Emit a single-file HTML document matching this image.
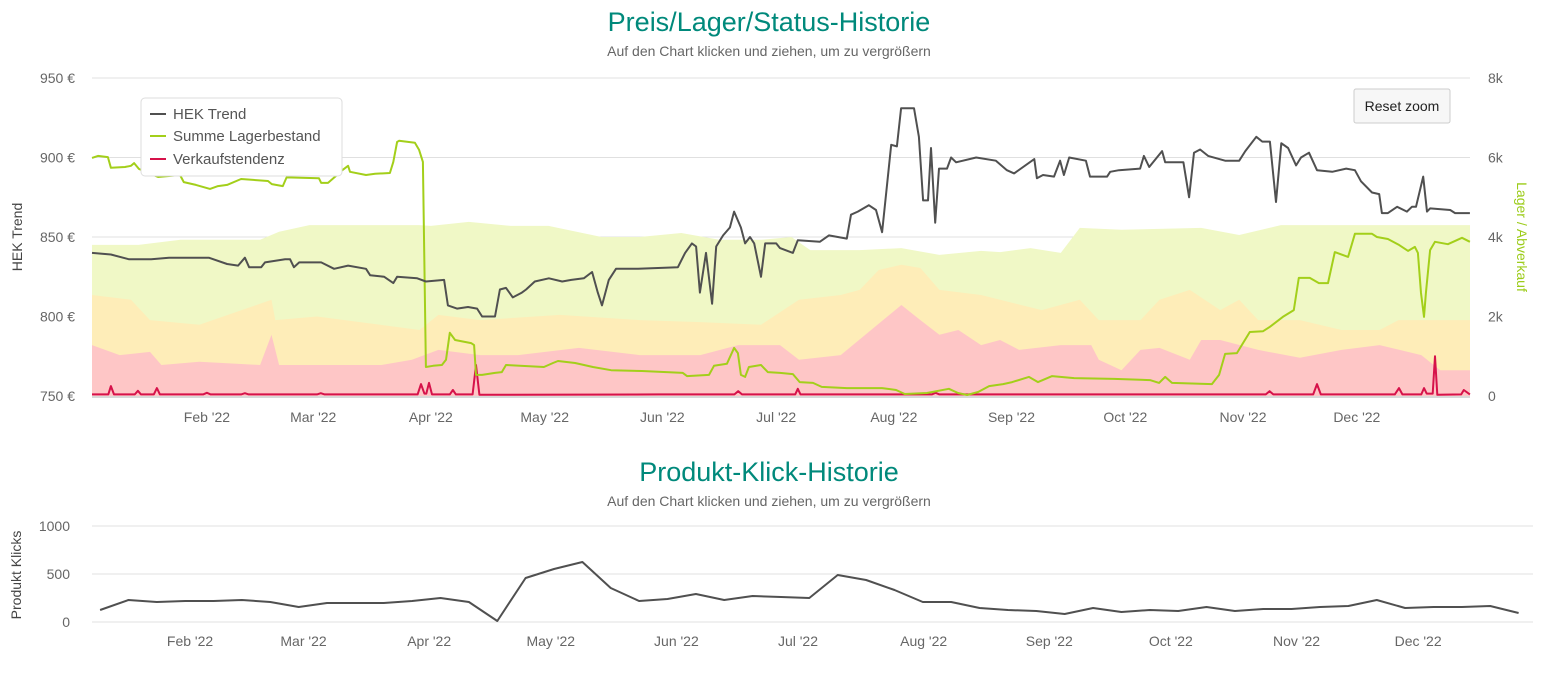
<!DOCTYPE html>
<html><head><meta charset="utf-8">
<style>
html,body{margin:0;padding:0;background:#fff;}
body{width:1546px;height:672px;overflow:hidden;font-family:"Liberation Sans",sans-serif;}
svg text{font-family:"Liberation Sans",sans-serif;}
</style></head>
<body>
<svg id="chart" width="1546" height="672" xmlns="http://www.w3.org/2000/svg">
  <text x="769" y="31" text-anchor="middle" font-size="27" fill="#00897b">Preis/Lager/Status-Historie</text>
  <text x="769" y="56" text-anchor="middle" font-size="14" fill="#666">Auf den Chart klicken und ziehen, um zu vergrößern</text>
  <g id="top-grid"></g>
  <g id="top-areas"></g>
  <g id="top-lines"></g>
  <g id="top-axes"></g>
  <text transform="translate(22,237) rotate(-90)" text-anchor="middle" font-size="14" fill="#444">HEK Trend</text>
  <text transform="translate(1517,237) rotate(90)" text-anchor="middle" font-size="14" fill="#9ccc1a">Lager / Abverkauf</text>
  <g>
    <rect x="141" y="98" width="201" height="78" rx="4" fill="#fff" stroke="#ddd"/>
    <g><line x1="150" y1="114" x2="166" y2="114" stroke="#505050" stroke-width="2"/><text x="173" y="119" font-size="15" fill="#555">HEK Trend</text></g>
    <g><line x1="150" y1="136" x2="166" y2="136" stroke="#a3cf1a" stroke-width="2"/><text x="173" y="141" font-size="15" fill="#555">Summe Lagerbestand</text></g>
    <g><line x1="150" y1="159" x2="166" y2="159" stroke="#d6124a" stroke-width="2"/><text x="173" y="164" font-size="15" fill="#555">Verkaufstendenz</text></g>
  </g>
  <g>
    <rect x="1354" y="89" width="96" height="34" rx="2" fill="#f7f7f7" stroke="#ccc"/>
    <text x="1402" y="111" text-anchor="middle" font-size="14" fill="#222">Reset zoom</text>
  </g>
  <text x="769" y="481" text-anchor="middle" font-size="27" fill="#00897b">Produkt-Klick-Historie</text>
  <text x="769" y="506" text-anchor="middle" font-size="14" fill="#666">Auf den Chart klicken und ziehen, um zu vergrößern</text>
  <g id="bot"></g>
  <text transform="translate(21,575) rotate(-90)" text-anchor="middle" font-size="14" fill="#444">Produkt Klicks</text>
</svg>
<script>
const monthLabels = ["Feb '22","Mar '22","Apr '22","May '22","Jun '22","Jul '22","Aug '22","Sep '22","Oct '22","Nov '22","Dec '22"];
const monthDays = [31,59,90,120,151,181,212,243,273,304,334];
const priceTicks = [750,800,850,900,950];
const stockTicks = [0,2000,4000,6000,8000];
const stockTickLabels = ["0","2k","4k","6k","8k"];
const hekData = [[0.4,840],[5.7,839],[10.5,836],[16.3,836],[21,837],[31.5,837],[36.3,833],[39.2,832],[41,837],[42.1,831],[45.3,831],[46.3,834],[51.6,836],[52.9,836],[53.9,831],[55.3,834],[61.1,834],[64.5,830],[68.2,832],[72.9,830],[74,826],[77.7,825],[80.1,821],[81.1,825],[86.4,824],[88.7,822],[93.5,823],[94.5,807],[96.9,805],[99.8,806],[102.2,805],[103.5,800],[106.9,800],[108.2,817],[109.8,818],[111.6,812],[114,815],[115.1,817],[117.4,822],[121.1,824],[124.6,822],[127,823],[130.3,824],[132.5,828],[134,815],[135.1,807],[136.9,823],[138.8,830],[144.6,830],[155.1,831],[157,840],[158.8,846],[159.9,844],[160.9,815],[162.5,840],[164.1,808],[165.2,844],[167,851],[168.8,856],[169.9,866],[171.7,856],[172.8,846],[174.1,850],[175.2,846],[177,825],[178.1,846],[181,846],
[182,843],[185.4,840],[186.7,848],[192.5,847],[194.9,851],[199.6,849],[200.7,864],[202.5,866],[205.4,870],[207.3,867],[208.9,853],[211.3,908],[212.8,907],[213.9,931],[217.3,931],[218.6,913],[219.7,873],[221,873],[221.8,906],[222.9,859],[223.9,893],[226,893],[227.1,900],[228.4,897],[233.7,900],[238.9,898],[241.8,892],[243.7,890],[249,899],[249.7,887],[251.3,889],[254.2,888],[255.8,898],[256.8,889],[258.2,900],[262.6,898],[263.7,888],[268.2,888],[269,891],[271.3,892],[276.9,893],[277.9,901],[279.3,894],[282.7,904],[283.5,897],[288.3,897],[289.8,875],[291.1,903],[292.7,905],[294.8,901],[299.3,898],[303,898],[304.6,904],[307.5,913],[309.1,910],[311.1,910],[312.7,872],[314.1,909],[315.9,906],[318,895],[319.3,900],[321.4,903],[323.5,892],[327.5,891],[331.2,893],[333.5,892],[335.1,885],[338,878],[339.9,877],[340.6,865],[342.2,865],[344.6,869],[347.2,866],[348.5,869],[349.6,869],[351.5,888],[352.5,866],[353.3,868],[358.6,867],[359.9,865],[363.8,865]];
const lagerData = [[0.4,5990],[2.3,6040],[4.9,6010],[5.7,5740],[9.4,5760],[11,5790],[11.8,5860],[13.1,5710],[18.1,5510],[23.9,5560],[24.9,5380],[28.1,5310],[31.8,5210],[33.9,5280],[36.3,5310],[40,5460],[47.1,5410],[48.1,5330],[51,5280],[52,5500],[60.5,5480],[61.1,5360],[62.9,5360],[65.3,5560],[66.8,5690],[68.2,5790],[68.7,5640],[72.9,5560],[75.3,5590],[79.2,5610],[80.1,5890],[81.1,6390],[81.6,6420],[85.8,6370],[86.9,6190],[87.9,5890],[88.7,730],[90.6,760],[92.9,780],[94,910],[95,1590],[96.4,1410],[100.6,1330],[101.4,1280],[101.9,530],[103.5,530],[106.9,580],[108.7,600],[109.8,780],[119.8,730],[122.2,830],[123.5,880],[128,830],[132.7,730],[137.5,650],[145.6,630],[156.4,580],[157.5,500],[163.3,530],[164.6,760],[168,810],[169.9,1210],[170.9,1080],[171.7,530],[172.8,480],[173.8,730],[177,780],[178.8,600],[182,580],[185.4,550],[187.2,350],[190.7,330],[193,230],[199.6,200],[208.9,200],[212.6,150],[214.9,50],[220.7,75],[226.5,180],[228.9,75],[231.3,25],[234.2,100],[237.1,250],[240.8,300],[243.2,350],[247.6,480],[250,350],[253.7,500],[259.5,450],[270,430],[279.5,400],[281.9,330],[283.5,480],[285.3,330],[295.8,300],[297.7,530],[299.3,1060],[302.4,1080],[304,1330],[305.8,1610],[309.3,1630],[311.1,1740],[314.5,1990],[317.4,2160],[318.7,2970],[321.6,2970],[324,2840],[326.4,2840],[328.2,3620],[331.7,3500],[333.5,4080],[338,4080],[339.3,4000],[342.2,3950],[345.1,3800],[347.5,3650],[349.3,3750],[350.1,3600],[350.9,2590],[351.7,1990],[352.2,2590],[353.3,3670],[354.6,3880],[358,3820],[361.7,3980],[363.8,3880]];
const verkaufData = [[0.4,40],[5,40],[5.7,250],[6.5,40],[12,40],[12.8,130],[13.6,40],[17,40],[17.8,200],[18.6,40],[30,40],[31,80],[32,40],[40,40],[41,70],[42,40],[60,40],[61,70],[62,40],[86.5,40],[87.4,300],[88.3,60],[88.8,60],[89.5,330],[90.3,40],[95,40],[95.8,150],[96.6,40],[101,40],[101.9,780],[102.8,30],[150,40],[170,40],[171,120],[172,40],[186,40],[186.7,180],[187.4,40],[222,40],[223,80],[224,40],[300,40],[310,40],[311,120],[312,40],[322.5,40],[323.5,300],[324.5,40],[344,40],[345.1,200],[346,40],[351,40],[351.7,200],[352.4,60],[354,60],[354.6,1000],[355.2,30],[361.5,40],[362.2,150],[363.8,40]];
const bandGreen = [[0,3800],[13,3800],[24,3930],[45,3930],[50,4130],[58,4300],[87,4300],[90,4280],[100,4380],[111,4280],[121,4280],[135,4000],[145,4000],[156,4100],[166,3930],[177,3930],[185,4000],[190,3670],[203,3670],[214,3720],[224,3550],[235,3650],[240,3620],[248,3720],[256,3600],[261,4230],[272,4180],[293,4230],[303,4050],[314,4300],[322,4300],[340,4300],[356,4300],[364,4300]];
const bandYellow = [[0,2540],[11,2420],[16,1910],[29,1790],[48,2420],[49,1910],[60,2000],[87,1660],[92,2040],[103,1910],[124,2040],[145,1910],[161,1860],[177,1790],[187,2420],[198,2540],[203,2670],[208,3170],[214,3300],[219,3220],[224,2670],[235,2540],[240,2420],[251,2160],[261,2420],[266,1910],[277,1910],[282,2420],[290,2670],[298,2160],[303,2420],[308,1910],[319,1910],[330,1660],[340,1660],[345,1910],[364,1910]];
const bandPink = [[0,1280],[8,1030],[16,1110],[19,780],[29,860],[45,780],[48,1540],[50,780],[77,780],[85,910],[92,1160],[103,1030],[113,1030],[129,1210],[145,1030],[161,1030],[171,1280],[182,1280],[187,910],[198,1030],[206,1660],[214,2290],[219,1910],[224,1540],[229,1660],[235,1280],[240,1410],[245,1160],[256,1280],[264,1280],[266,910],[272,650],[277,1160],[282,1210],[290,910],[293,1410],[298,1410],[308,1160],[319,960],[330,1160],[340,1280],[351,1030],[356,650],[364,650]];
const clickStartDay = 8.8;
const clickValues = [125,229,208,219,219,229,208,156,198,198,198,219,250,208,10,458,552,625,354,219,240,292,229,271,260,250,490,438,333,208,208,146,125,115,83,146,104,125,115,156,115,135,135,156,167,229,146,156,156,167,94];
const clickTicks = [0,500,1000];

const NS="http://www.w3.org/2000/svg";
function mk(tag,attrs,parent){const e=document.createElementNS(NS,tag);for(const k in attrs)e.setAttribute(k,attrs[k]);parent.appendChild(e);return e;}
// top axes
const X0=89.3, XS=3.795;
const xT=d=>X0+d*XS;
const yP=v=>396-(v-750)*1.59;
const yS=v=>396-v*318/8000;
const grid=document.getElementById('top-grid');
priceTicks.forEach((t,i)=>{
  const l=mk('line',{x1:92,x2:1470,y1:yP(t),y2:yP(t),stroke:'#e0e0e0','stroke-width':1},grid);
  
  
  const tx=mk('text',{x:75,y:yP(t)+5,'text-anchor':'end','font-size':14,fill:'#666'},grid);
  tx.textContent=t+' €';
  
  
});
stockTicks.forEach((t,i)=>{
  const tx=mk('text',{x:1488,y:yS(t)+5,'text-anchor':'start','font-size':14,fill:'#666'},grid);
  tx.textContent=stockTickLabels[i];
  
  
});
const ax=document.getElementById('top-axes');
monthDays.forEach((d,i)=>{
  const tx=mk('text',{x:xT(d),y:422,'text-anchor':'middle','font-size':14,fill:'#666'},ax);
  tx.textContent=monthLabels[i];
  
  
});
function pathOf(data,fy,fx){return data.map((p,i)=>(i?'L':'M')+fx(p[0]).toFixed(1)+' '+fy(p[1]).toFixed(1)).join(' ');}
function areaOf(data,fy,fx){const first=data[0],last=data[data.length-1];
  return 'M'+fx(first[0]).toFixed(1)+' '+fy(0)+' '+data.map(p=>'L'+fx(p[0]).toFixed(1)+' '+fy(p[1]).toFixed(1)).join(' ')+' L'+fx(last[0]).toFixed(1)+' '+fy(0)+' Z';}
const xc=d=>Math.max(92,Math.min(1470,xT(d)));
const areas=document.getElementById('top-areas');
const a1=mk('path',{d:areaOf(bandGreen,yS,xc),fill:'#f0f8c6'},areas);


const a2=mk('path',{d:areaOf(bandYellow,yS,xc),fill:'#feedb8'},areas);


const a3=mk('path',{d:areaOf(bandPink,yS,xc),fill:'#fec6c6'},areas);


const lines=document.getElementById('top-lines');
mk('line',{x1:92,x2:1470,y1:397,y2:397,stroke:'#d8d8d8','stroke-width':2},lines);
const l1=mk('path',{d:pathOf(verkaufData,yS,xc),fill:'none',stroke:'#d6124a','stroke-width':2,'stroke-linejoin':'round'},lines);


const l2=mk('path',{d:pathOf(lagerData,yS,xc),fill:'none',stroke:'#a3cf1a','stroke-width':2,'stroke-linejoin':'round'},lines);


const l3=mk('path',{d:pathOf(hekData,yP,xc),fill:'none',stroke:'#505050','stroke-width':2,'stroke-linejoin':'round'},lines);


// bottom chart
const bot=document.getElementById('bot');
const xB=d=>64.4+d*4.053;
const yB=v=>622-v*0.096;
clickTicks.forEach(t=>{
  const l=mk('line',{x1:92,x2:1533,y1:yB(t),y2:yB(t),stroke:'#e0e0e0','stroke-width':1},bot);
  
  
  const tx=mk('text',{x:70,y:yB(t)+5,'text-anchor':'end','font-size':14,fill:'#666'},bot);
  tx.textContent=String(t);
  
  
});
monthDays.forEach((d,i)=>{
  const tx=mk('text',{x:xB(d),y:646,'text-anchor':'middle','font-size':14,fill:'#666'},bot);
  tx.textContent=monthLabels[i];
  
  
});
const cData=clickValues.map((v,i)=>[clickStartDay+i*7,v]);
const cl=mk('path',{d:pathOf(cData,yB,xB),fill:'none',stroke:'#505050','stroke-width':2,'stroke-linejoin':'round'},bot);


</script>
</body></html>
